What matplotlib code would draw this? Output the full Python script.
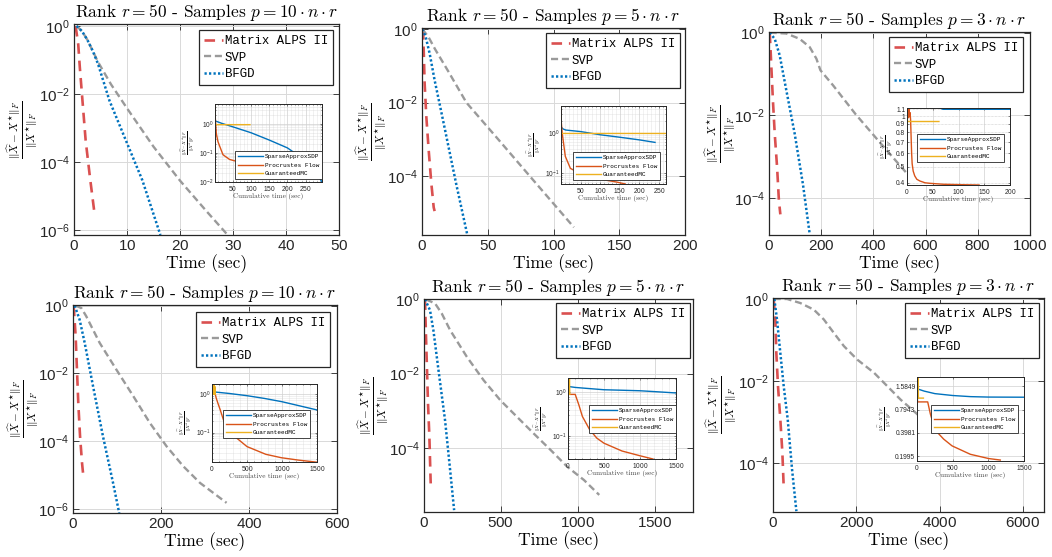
import numpy as np
import matplotlib
matplotlib.use('Agg')
import matplotlib.pyplot as plt
from matplotlib.ticker import FixedLocator, NullFormatter, LogLocator

plt.rcParams['mathtext.fontset'] = 'cm'
plt.rcParams['font.family'] = ['Liberation Sans', 'DejaVu Sans']
plt.rcParams['axes.formatter.use_mathtext'] = True

W, H = 1052, 557

# ---------------- data ----------------
rank_r = 50
sample_factor = [10, 5, 3, 10, 5, 3]
series_names = ['Matrix ALPS II', 'SVP', 'BFGD']
inset_names = ['SparseApproxSDP', 'Procrustes Flow', 'GuaranteedMC']

# main panels: time (sec) and log10 of relative error
p1_alps_t = [0.3, 0.8, 1.1, 1.6, 2.2, 3.0, 3.8]
p1_alps_e = [0, -0.54, -1.22, -2.2, -3.37, -4.44, -5.43]
p1_svp_t = [0.5, 1.5, 2.5, 3.5, 4.5, 7, 10, 15, 20, 25, 29]
p1_svp_e = [0, -0.15, -0.4, -0.72, -1.05, -1.72, -2.42, -3.55, -4.55, -5.45, -6.15]
p1_bfgd_t = [0.5, 1.5, 2.5, 3.5, 4.5, 6.7, 9.8, 12.9, 16.3]
p1_bfgd_e = [0, -0.15, -0.4, -0.72, -1.1, -2.2, -3.37, -4.54, -6.15]

p2_alps_t = [0.8, 1.3, 2.0, 3.3, 5.1, 7.1, 8.9, 9.6]
p2_alps_e = [0, -0.57, -1.48, -2.39, -3.3, -4.2, -4.85, -4.95]
p2_svp_t = [0.25, 5, 10, 15, 20, 33.8, 58, 82, 115.5]
p2_svp_e = [0, -0.22, -0.55, -0.85, -1.15, -2.0, -3.0, -4.0, -5.39]
p2_bfgd_t = [0.25, 2.8, 5.8, 9.6, 16, 26, 34.3, 35.5]
p2_bfgd_e = [0, -0.21, -0.66, -1.39, -2.48, -4.21, -5.57, -5.7]

p3_alps_t = [2.5, 5, 9, 15, 22, 31, 38, 43.5]
p3_alps_e = [0, -0.27, -0.83, -1.64, -2.45, -3.26, -4.07, -4.4]
p3_svp_t = [2.5, 66.5, 117.6, 156, 181.6, 197, 246, 332.5, 425, 507.7, 565]
p3_svp_e = [0, -0.02, -0.15, -0.35, -0.63, -0.91, -1.28, -1.98, -2.66, -3.26, -3.67]
p3_bfgd_t = [2.5, 22, 41, 66.5, 98.5, 130, 156]
p3_bfgd_e = [0, -0.15, -0.55, -1.4, -2.45, -3.67, -4.88]

p4_alps_t = [1.5, 6, 9, 12, 16, 20.5, 22.8]
p4_alps_e = [0, -0.9, -1.89, -2.87, -3.85, -4.64, -4.94]
p4_svp_t = [6, 19, 30, 60.7, 98.7, 137, 174.6, 212.6, 250.6, 288.5, 349]
p4_svp_e = [0, -0.07, -0.31, -1.1, -1.89, -2.67, -3.46, -4.15, -4.74, -5.23, -5.82]
p4_bfgd_t = [3.8, 15, 26.6, 45.6, 68, 91, 105]
p4_bfgd_e = [0, -0.41, -1.1, -2.38, -3.85, -5.23, -6.12]

p5_alps_t = [6.5, 13, 19.6, 26, 35, 41, 43.6]
p5_alps_e = [0, -1.0, -1.9, -2.8, -3.7, -4.6, -4.96]
p5_svp_t = [13, 72, 115.5, 170, 279, 388, 497, 606, 715, 824, 932, 1041, 1140]
p5_svp_e = [0, -0.11, -0.38, -0.83, -1.55, -2.18, -2.72, -3.17, -3.62, -4.06, -4.51, -4.87, -5.27]
p5_bfgd_t = [6.5, 39, 61, 94, 137, 170, 196]
p5_bfgd_e = [0, -0.29, -0.83, -1.9, -3.26, -4.6, -5.68]

p6_alps_t = [16, 56, 80, 120, 176, 225, 257]
p6_alps_e = [0, -0.5, -1.32, -2.13, -2.94, -3.76, -4.6]
p6_svp_t = [16, 337, 658, 979, 1219, 1460, 1700, 2021, 2422, 2743, 3064, 3425, 3866]
p6_svp_e = [0, 0, -0.1, -0.26, -0.5, -0.83, -1.15, -1.48, -1.8, -2.13, -2.46, -2.78, -3.19]
p6_bfgd_t = [32, 96, 176, 257, 353, 457, 561]
p6_bfgd_e = [0, -0.5, -1.32, -2.13, -2.94, -4.16, -5.18]

main_xmax = [50, 200, 1000, 600, 1750, 6500]
main_xticks = [[0, 10, 20, 30, 40, 50], [0, 50, 100, 150, 200], [0, 200, 400, 600, 800, 1000],
               [0, 200, 400, 600], [0, 500, 1000, 1500], [0, 2000, 4000, 6000]]
main_ylog = [(-6.15, 0.06), (-5.6, 0.03), (-4.9, 0.016), (-6.12, 0.02), (-5.73, 0.01), (-5.2, 0.024)]
main_yticks = [[0, -2, -4, -6], [0, -2, -4], [0, -2, -4], [0, -2, -4, -6], [0, -2, -4], [0, -2, -4]]

# insets: cumulative time (sec) and relative error
i1_sdp_t = [0, 20, 50, 100, 150, 200, 250, 280, 295]
i1_sdp_v = [1.3, 1.05, 0.8, 0.5, 0.28, 0.15, 0.055, 0.02, 0.01]
i1_pf_t = [0, 1, 2, 4.6, 9, 14, 23, 41, 64, 120]
i1_pf_v = [4.9, 3, 1.5, 0.47, 0.25, 0.17, 0.087, 0.06, 0.05, 0.04]
i1_gmc_t = [0, 0.5, 1, 97]
i1_gmc_v = [4.9, 1.2, 0.95, 0.95]

i2_sdp_t = [0, 5, 12, 50, 100, 150, 200, 240]
i2_sdp_v = [1.42, 1.26, 1.18, 1.08, 0.9, 0.78, 0.67, 0.58]
i2_pf_t = [0, 0.5, 3, 11, 24, 58, 100, 143, 164]
i2_pf_v = [4.7, 2, 1.0, 0.26, 0.13, 0.087, 0.07, 0.059, 0.053]
i2_gmc_t = [0, 0.5, 1, 268]
i2_gmc_v = [4.7, 1.2, 0.97, 0.97]

i3_sdp_t = [0, 60, 70, 200]
i3_sdp_v = [1.2, 1.13, 1.1, 1.1]
i3_pf_t = [0, 2, 3, 4, 5, 6, 7, 8, 9, 10, 12, 15, 19, 25, 35, 45, 70, 100, 140]
i3_pf_v = [1.0, 1.08, 0.98, 1.1, 1.0, 1.05, 0.95, 0.75, 0.6, 0.52, 0.47, 0.44, 0.42, 0.41, 0.40, 0.397, 0.392, 0.39, 0.388]
i3_gmc_t = [0, 0.5, 1, 62]
i3_gmc_v = [1.12, 1.0, 0.93, 0.93]

i4_sdp_t = [0, 250, 500, 750, 1000, 1250, 1500]
i4_sdp_v = [1.17, 1.05, 0.92, 0.78, 0.64, 0.5, 0.39]
i4_pf_t = [0, 30, 47, 60, 85, 118, 179, 297, 500, 769, 990, 1240, 1500]
i4_pf_v = [1.86, 1.3, 1.0, 0.8, 0.58, 0.39, 0.175, 0.087, 0.043, 0.027, 0.022, 0.019, 0.0168]
i4_gmc_t = [0, 5, 10, 15, 20, 25, 30, 35, 40, 45]
i4_gmc_v = [1.86, 1.0, 1.86, 1.0, 1.86, 1.0, 1.86, 1.0, 1.6, 1.0]

i5_sdp_t = [0, 100, 250, 500, 750, 1000, 1250, 1500]
i5_sdp_v = [1.37, 1.3, 1.24, 1.15, 1.12, 1.09, 1.03, 0.97]
i5_pf_t = [0, 5, 10, 100, 150, 200, 300, 400, 500, 750, 1000, 1180]
i5_pf_v = [2.14, 1.2, 0.9, 0.9, 0.52, 0.28, 0.14, 0.089, 0.068, 0.045, 0.035, 0.0295]
i5_gmc_t = [0, 5, 10, 15, 20, 25]
i5_gmc_v = [2.14, 0.9, 2.14, 0.9, 2.14, 0.9]

i6_sdp_t = [0, 100, 250, 500, 750, 1000, 1500]
i6_sdp_v = [1.48, 1.38, 1.28, 1.21, 1.17, 1.155, 1.15]
i6_pf_t = [0, 3, 8, 150, 187, 243, 300, 374, 491, 748, 1005, 1168]
i6_pf_v = [2.1, 1.2, 1.0, 1.0, 0.70, 0.47, 0.39, 0.33, 0.27, 0.21, 0.185, 0.177]
i6_gmc_t = [0, 4, 8, 12, 16, 20, 90]
i6_gmc_v = [2.1, 1.12, 2.1, 1.12, 2.1, 1.12, 1.12]

inset_xlim = [(1, 295), (0, 268), (0, 200), (0, 1500), (0, 1500), (0, 1500)]
inset_xticks = [[50, 100, 150, 200, 250], [50, 100, 150, 200, 250], [0, 50, 100, 150, 200],
                [0, 500, 1000, 1500], [0, 500, 1000, 1500], [0, 500, 1000, 1500]]
inset_ylim = [(0.01, 4.9), (0.053, 4.7), (0.388, 1.12), (0.017, 1.86), (0.0295, 2.14), (0.172, 2.1)]
inset_yticks = [[0.01, 0.1, 1], [0.1, 1], [0.4, 0.5, 0.6, 0.7, 0.8, 0.9, 1, 1.1],
                [0.1, 1], [0.1, 1], [0.1995, 0.3981, 0.7943, 1.5849]]
inset_ylabels = [[r'$\mathdefault{10^{-2}}$', r'$\mathdefault{10^{-1}}$', r'$\mathdefault{10^{0}}$'],
                 [r'$\mathdefault{10^{-1}}$', r'$\mathdefault{10^{0}}$'],
                 ['0.4', '0.5', '0.6', '0.7', '0.8', '0.9', '1', '1.1'],
                 [r'$\mathdefault{10^{-1}}$', r'$\mathdefault{10^{0}}$'],
                 [r'$\mathdefault{10^{-1}}$', r'$\mathdefault{10^{0}}$'],
                 ['0.1995', '0.3981', '0.7943', '1.5849']]

# ---------------- layout (pixel boxes: left, right, top, bottom) ----------------
main_boxes = [(74, 339, 24, 235), (422, 685, 28, 235), (769, 1030, 32, 235),
              (73, 337, 305, 513), (424, 693, 299, 512), (773, 1044, 298, 512)]
ylabel_right = [39, 388, 737, 40, 390, 738]
inset_boxes = [(215, 322, 104, 182), (561, 666, 106, 184), (907, 1010, 108, 185),
               (212, 317, 384, 462), (568, 676, 378, 459), (917, 1024, 377, 461)]
legend_corner = [(333, 30), (680, 33), (1023, 37), (330, 312), (690, 303), (1039, 303)]
inset_legend_corner = [(322, 151), (660, 152), (1004, 134), (310, 410), (676, 405), (1018, 405)]

C_ALPS = '#DA5050'
C_SVP = '#9A9A9A'
C_BFGD = '#0072BD'
C_SDP = '#0072BD'
C_PF = '#D95319'
C_GMC = '#EDB120'
TXT = '#262626'

fig = plt.figure(figsize=(W / 100, H / 100), dpi=100)


def rect(b):
    l, r, t, bt = b
    return [l / W, 1 - bt / H, (r - l) / W, (bt - t) / H]


main_data = [
    (p1_alps_t, p1_alps_e, p1_svp_t, p1_svp_e, p1_bfgd_t, p1_bfgd_e),
    (p2_alps_t, p2_alps_e, p2_svp_t, p2_svp_e, p2_bfgd_t, p2_bfgd_e),
    (p3_alps_t, p3_alps_e, p3_svp_t, p3_svp_e, p3_bfgd_t, p3_bfgd_e),
    (p4_alps_t, p4_alps_e, p4_svp_t, p4_svp_e, p4_bfgd_t, p4_bfgd_e),
    (p5_alps_t, p5_alps_e, p5_svp_t, p5_svp_e, p5_bfgd_t, p5_bfgd_e),
    (p6_alps_t, p6_alps_e, p6_svp_t, p6_svp_e, p6_bfgd_t, p6_bfgd_e),
]
inset_data = [
    (i1_sdp_t, i1_sdp_v, i1_pf_t, i1_pf_v, i1_gmc_t, i1_gmc_v),
    (i2_sdp_t, i2_sdp_v, i2_pf_t, i2_pf_v, i2_gmc_t, i2_gmc_v),
    (i3_sdp_t, i3_sdp_v, i3_pf_t, i3_pf_v, i3_gmc_t, i3_gmc_v),
    (i4_sdp_t, i4_sdp_v, i4_pf_t, i4_pf_v, i4_gmc_t, i4_gmc_v),
    (i5_sdp_t, i5_sdp_v, i5_pf_t, i5_pf_v, i5_gmc_t, i5_gmc_v),
    (i6_sdp_t, i6_sdp_v, i6_pf_t, i6_pf_v, i6_gmc_t, i6_gmc_v),
]

ylab = r'$\frac{\|\widehat{X}-X^{\star}\|_F}{\|X^{\star}\|_F}$'

for k in range(6):
    box = main_boxes[k]
    ax = fig.add_axes(rect(box), zorder=1)
    at, ae, st, se, bt, be = main_data[k]
    l1, = ax.plot(at, 10 ** np.array(ae), color=C_ALPS, lw=1.9, ls=(0, (4, 2.6)))
    l2, = ax.plot(st, 10 ** np.array(se), color=C_SVP, lw=1.7, ls=(0, (3, 1.6)))
    l3, = ax.plot(bt, 10 ** np.array(be), color=C_BFGD, lw=1.8, ls=(0, (0.9, 0.9)))
    ax.set_yscale('log')
    ax.set_xlim(0, main_xmax[k])
    lo, hi = main_ylog[k]
    ax.set_ylim(10 ** lo, 10 ** hi)
    ax.set_xticks(main_xticks[k])
    ax.set_yticks([10.0 ** e for e in main_yticks[k]])
    ax.set_yticklabels([r'$\mathdefault{10^{%d}}$' % e for e in main_yticks[k]])
    ax.yaxis.set_minor_locator(FixedLocator([]))
    ax.yaxis.set_minor_formatter(NullFormatter())
    ax.grid(True, color='#d9d9d9', lw=0.7)
    ax.set_axisbelow(True)
    ax.tick_params(direction='in', length=4, width=0.6, top=True, right=True,
                   labelsize=11, colors=TXT, pad=3)
    for s in ax.spines.values():
        s.set_color(TXT)
        s.set_linewidth(0.9)
    ax.set_title(r'Rank $r = %d$ - Samples $p = %d \cdot n \cdot r$' % (rank_r, sample_factor[k]),
                 fontfamily='cmr10', fontsize=12.5, pad=5)
    ax.set_xlabel('Time (sec)', fontfamily='cmr10', fontsize=12.5, labelpad=1)
    ax.set_ylabel(ylab, fontsize=11.5)
    ax.yaxis.set_label_coords((ylabel_right[k] - box[0]) / (box[1] - box[0]), 0.5)
    cx, cy = legend_corner[k]
    leg = ax.legend([l1, l2, l3], series_names, loc='upper right',
                    bbox_to_anchor=(cx / W, 1 - cy / H), bbox_transform=fig.transFigure,
                    borderaxespad=0, prop={'family': 'Liberation Mono', 'size': 8.9},
                    handlelength=1.55, handletextpad=0.12, labelspacing=0.38,
                    borderpad=0.4, fancybox=False, framealpha=1, edgecolor=TXT)
    leg.get_frame().set_linewidth(0.9)

    # inset
    ia = fig.add_axes(rect(inset_boxes[k]), zorder=3)
    qt, qv, pt, pv, gt, gv = inset_data[k]
    h1, = ia.plot(qt, qv, color=C_SDP, lw=1.0)
    h2, = ia.plot(pt, pv, color=C_PF, lw=1.0)
    h3, = ia.plot(gt, gv, color=C_GMC, lw=1.0)
    ia.set_yscale('log')
    ia.set_xlim(*inset_xlim[k])
    ia.set_ylim(*inset_ylim[k])
    ia.set_xticks(inset_xticks[k])
    ia.set_yticks(inset_yticks[k])
    ia.set_yticklabels(inset_ylabels[k])
    ia.yaxis.set_minor_formatter(NullFormatter())
    if k in (0, 1, 3, 4):
        ia.yaxis.set_minor_locator(LogLocator(base=10, subs=np.arange(2, 10)))
        ia.xaxis.set_minor_locator(FixedLocator(
            np.arange(0, inset_xlim[k][1] + 1, (inset_xticks[k][1] - inset_xticks[k][0]) / 5.0)))
        ia.grid(True, which='minor', color='#cfcfcf', lw=0.4, ls=(0, (1, 1)))
    else:
        ia.yaxis.set_minor_locator(FixedLocator([]))
    ia.grid(True, which='major', color='#d0d0d0', lw=0.5)
    if k == 2:
        ia.grid(True, which='major', axis='y', color='#c8c8c8', lw=0.5, ls=(0, (1, 1)))
    ia.set_axisbelow(True)
    ia.tick_params(which='both', direction='in', length=1.5, width=0.4, top=True, right=True,
                   labelsize=4.8, colors=TXT, pad=1.2)
    ia.tick_params(which='minor', length=0.8)
    for s in ia.spines.values():
        s.set_color(TXT)
        s.set_linewidth(0.7)
    ia.set_xlabel('Cumulative time (sec)', fontfamily='cmr10', fontsize=5.2, labelpad=0.5, color='#404040')
    ia.set_ylabel(ylab, fontsize=4.6, labelpad=1)
    ix, iy = inset_legend_corner[k]
    il = ia.legend([h1, h2, h3], inset_names, loc='upper right',
                   bbox_to_anchor=(ix / W, 1 - iy / H), bbox_transform=fig.transFigure,
                   borderaxespad=0, prop={'family': 'Liberation Mono', 'size': 4.3},
                   handlelength=4.2, handletextpad=0.3, labelspacing=0.55,
                   borderpad=0.5, fancybox=False, framealpha=1, edgecolor=TXT)
    il.get_frame().set_linewidth(0.6)

fig.savefig('out.png', dpi=100)
